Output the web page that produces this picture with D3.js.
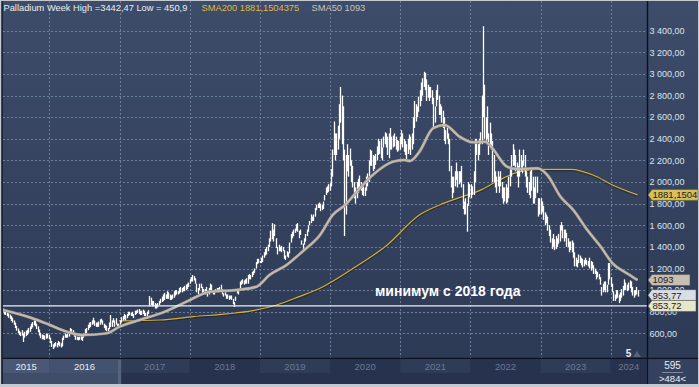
<!DOCTYPE html>
<html><head><meta charset="utf-8">
<script src="https://cdn.jsdelivr.net/npm/d3@7"></script>
<style>html,body{margin:0;padding:0;background:#c3c9d1;} svg{display:block;font-family:"Liberation Sans",Arial,sans-serif;}</style>
</head><body><svg id="c" width="699" height="387"></svg>
<script>
// ---------------- DATA ----------------
const weekStart = "2015-05-04"; // first weekly bar (Monday)
// weekly [low, high]
const w2015 = [
 [795,830],[775,815],[770,805],[760,795],
 [745,785],[735,775],[715,760],[700,745],[680,720],
 [650,700],[625,670],[600,645],[585,625],
 [575,610],[580,630],[520,600],[560,615],[575,625],
 [585,635],[600,650],[615,665],[640,690],
 [655,705],[675,724],[665,715],[640,690],
 [610,665],[580,635],[555,605],[545,590],[545,585],
 [540,580],[550,600],[555,595],[545,585]];
const w2016 = [
 [510,560],[475,530],[455,500],[470,510],
 [480,520],[470,510],[490,530],[480,520],[470,510],
 [480,560],[540,580],[560,600],[560,590],
 [560,600],[570,620],[600,650],[610,640],
 [590,630],[570,610],[540,590],[540,570],[535,565],
 [540,570],[540,580],[530,570],[560,600],
 [590,640],[600,650],[630,680],[650,700],
 [660,705],[680,720],[690,745],[670,720],[660,700],
 [660,700],[660,710],[680,730],[700,735],
 [680,720],[650,690],[630,680],[620,670],[620,650],
 [640,700],[660,770],[660,720],[700,740],
 [660,720],[680,740],[660,690],[660,690]];
const w2017 = [
 [680,720],[700,750],[720,760],[730,780],[720,770],
 [740,780],[760,800],[770,800],[760,790],
 [760,800],[740,780],[770,810],[780,810],
 [790,820],[780,825],[770,810],[770,810],
 [780,820],[760,810],[760,790],[760,800],[780,815],
 [850,945],[860,930],[850,900],[850,900],
 [830,880],[830,870],[840,880],[860,900],[880,920],
 [890,940],[900,960],[910,975],[920,960],
 [920,990],[920,980],[910,960],[910,950],
 [920,960],[930,990],[950,1000],[960,1000],[960,990],
 [970,1020],[980,1030],[980,1020],[990,1030],
 [990,1040],[1000,1050],[1010,1060],[1030,1070]];
const w2018 = [
 [1060,1100],[1080,1120],[1080,1140],[1090,1130],[1060,1110],
 [980,1060],[960,1020],[1000,1060],[1020,1060],
 [970,1030],[980,1010],[960,1010],[990,1030],
 [940,980],[960,1020],[1000,1060],[990,1050],[960,1000],
 [960,1000],[980,1010],[990,1020],[980,1020],
 [990,1030],[1000,1050],[960,1010],[940,970],
 [950,980],[920,960],[920,960],[910,950],[920,950],
 [910,950],[870,920],[845,890],[900,940],
 [970,1000],[960,1000],[1020,1080],[1050,1090],
 [1060,1100],[1050,1090],[1060,1100],[1060,1110],[1060,1140],
 [1100,1150],[1100,1140],[1120,1170],[1140,1180],
 [1160,1200],[1200,1260],[1240,1290],[1250,1290],[1250,1270]];
const w2019 = [
 [1250,1300],[1260,1320],[1300,1350],[1320,1380],
 [1330,1400],[1360,1420],[1400,1480],[1450,1550],
 [1470,1620],[1450,1560],[1500,1610],[1390,1480],
 [1330,1400],[1360,1420],[1360,1400],[1350,1410],[1360,1400],
 [1290,1370],[1280,1320],[1310,1360],[1300,1350],
 [1340,1440],[1440,1520],[1480,1540],[1500,1560],
 [1530,1570],[1550,1610],[1540,1620],[1480,1550],[1510,1560],
 [1420,1460],[1380,1430],[1420,1480],[1450,1520],
 [1500,1560],[1540,1600],[1600,1640],[1620,1700],[1640,1680],
 [1640,1700],[1680,1760],[1740,1790],[1760,1800],
 [1760,1810],[1730,1800],[1740,1790],[1750,1820],
 [1830,1880],[1880,1950],[1900,1960],[1910,1980],[1920,1990]];
const w2020 = [
 [1960,2120],[2050,2300],[2250,2560],[2200,2450],
 [2250,2450],[2300,2520],[2400,2720],[2550,2880],
 [2350,2800],[2200,2700],[1500,2300],[1700,2250],[2100,2350],
 [2050,2250],[2150,2310],[2000,2200],[1950,2150],
 [1850,2000],[1800,1950],[1850,2000],[1900,2030],
 [1930,2060],[1920,2000],[1880,1980],[1870,1960],[1870,1950],
 [1920,2050],[1960,2080],[2000,2200],[2150,2300],
 [2150,2290],[2100,2250],[2120,2240],[2160,2260],[2200,2330],
 [2250,2400],[2260,2380],[2220,2400],[2200,2320],
 [2320,2420],[2350,2460],[2320,2450],[2250,2420],
 [2220,2450],[2300,2500],[2300,2420],[2320,2430],[2330,2450],
 [2300,2420],[2280,2390],[2290,2380],[2300,2420]];
const w2021 = [
 [2350,2480],[2320,2450],[2280,2400],[2250,2380],
 [2200,2350],[2260,2400],[2300,2440],[2250,2420],
 [2300,2450],[2350,2600],[2500,2750],[2560,2720],[2600,2700],
 [2650,2790],[2700,2850],[2750,2920],[2800,2960],
 [2880,3020],[2850,3010],[2750,2950],[2780,2900],[2750,2880],
 [2780,2880],[2720,2850],[2500,2780],[2550,2700],
 [2700,2850],[2760,2900],[2620,2800],[2620,2720],
 [2550,2700],[2500,2660],[2380,2600],[2350,2480],[2400,2520],
 [2350,2450],[2100,2400],[1950,2150],[1850,2050],
 [1900,2050],[1960,2100],[2020,2180],[1950,2100],
 [1980,2100],[2000,2100],[1950,2150],[1750,1980],[1700,1820],
 [1700,1850],[1540,1800],[1780,2000],[1860,1980]];
const w2022 = [
 [1850,1980],[1880,1960],[1880,2100],[2000,2400],[2250,2400],
 [2200,2350],[2250,2400],[2350,2460],[2350,2800],
 [2600,3442],[2400,2900],[2350,2600],[2400,2700],
 [2250,2450],[2350,2550],[2300,2450],[2000,2380],
 [2000,2250],[1950,2100],[1900,2050],[1960,2100],[1900,2050],
 [1960,2100],[1850,2000],[1800,1950],[1820,1950],
 [1800,1980],[1810,1950],[1850,2050],[1960,2140],
 [2050,2250],[2150,2350],[2150,2300],[2100,2250],[2050,2180],
 [1950,2150],[2050,2300],[2100,2250],[2080,2200],
 [2150,2300],[2050,2250],[1950,2100],[1900,2050],[1880,2000],
 [1850,2100],[1920,2140],[1800,2050],[1800,1950],
 [1850,2050],[1900,2050],[1680,1850],[1700,1850]];
const w2023 = [
 [1700,1850],[1720,1820],[1650,1780],[1600,1720],[1620,1700],
 [1550,1680],[1500,1600],[1440,1560],[1380,1480],
 [1400,1520],[1370,1470],[1380,1500],[1400,1480],
 [1430,1520],[1450,1600],[1550,1630],[1480,1600],
 [1450,1560],[1480,1560],[1400,1530],[1400,1480],[1350,1450],
 [1370,1450],[1350,1460],[1300,1440],[1220,1350],
 [1220,1300],[1210,1280],[1250,1330],[1250,1320],[1230,1300],
 [1210,1290],[1220,1280],[1240,1300],[1230,1280],
 [1220,1270],[1200,1300],[1180,1270],[1200,1260],
 [1150,1230],[1150,1200],[1100,1180],[1120,1170],[1100,1150],
 [1050,1120],[950,1030],[980,1060],[1000,1080],
 [980,1080],[980,1050],[1050,1250],[1100,1250]];
const w2024 = [
 [1030,1120],[980,1060],[900,990],[900,960],[920,1000],
 [930,1000],[880,960],[900,980],[930,1010],
 [950,1040],[1000,1100],[1000,1070],[990,1050],
 [1000,1070],[1020,1090],[980,1080],[950,1030],[930,1000],
 [950,1000],[960,1030],[940,1000]];

// moving averages [date, value]
const sma50 = [
 ["2015-05-04",816],["2015-10-01",742],["2016-01-05",677],["2016-04-01",616],
 ["2016-06-20",585],["2016-10-25",600],["2017-01-01",662],["2017-04-15",724],
 ["2017-08-25",801],["2017-12-15",893],["2018-04-15",986],["2018-09-01",1002],
 ["2018-12-15",1032],["2019-02-20",1140],["2019-05-20",1233],["2019-08-10",1356],
 ["2019-11-10",1510],["2020-01-15",1695],["2020-03-20",1788],["2020-05-20",1911],
 ["2020-08-10",2065],["2020-11-25",2189],["2021-01-20",2204],["2021-02-20",2195],
 ["2021-04-10",2280],["2021-06-20",2497],["2021-08-20",2528],["2021-11-05",2420],
 ["2022-01-15",2367],["2022-03-20",2373],["2022-04-25",2312],["2022-07-10",2142],
 ["2022-08-30",2120],["2022-12-15",2127],["2023-02-05",2065],["2023-04-15",1864],
 ["2023-06-20",1742],["2023-09-01",1557],["2023-11-10",1402],["2024-01-10",1249],
 ["2024-03-25",1156],["2024-05-20",1093]];
const sma200 = [
 ["2016-12-28",715],["2017-07-30",724],["2018-01-20",755],["2018-07-15",780],
 ["2018-11-25",810],["2019-03-30",863],["2019-07-25",940],["2019-11-10",1017],
 ["2020-05-01",1202],["2020-10-25",1418],["2021-04-10",1695],["2021-07-25",1788],
 ["2021-11-20",1865],["2022-03-01",1930],["2022-06-01",2019],["2022-09-15",2096],
 ["2022-12-28",2118],["2023-06-10",2118],["2023-10-01",2065],["2024-01-10",1973],
 ["2024-05-20",1881]];

const levelValue = 853.72;
const yTicks = [600,800,1000,1200,1400,1600,1800,2000,2200,2400,2600,2800,3000,3200,3400];
const years = [2015,2016,2017,2018,2019,2020,2021,2022,2023,2024];
const tagValues = [1881.1504375, 1093, 953.77, 853.72];
const tagLabels = ["1881,1504", "1093", "953,77", "853,72"];
const headerMain = "Palladium Week High =3442,47 Low = 450,9";
const headerSma200 = "SMA200 1881,1504375";
const headerSma50 = "SMA50 1093";
const annotation = "минимум с 2018 года";
const cornerTop = "595", cornerBottom = ">484<", markerText = "5";

// ---------------- CHART ----------------
const svg = d3.select("#c");
const parse = d3.timeParse("%Y-%m-%d");
const weeks = [...w2015,...w2016,...w2017,...w2018,...w2019,...w2020,...w2021,...w2022,...w2023,...w2024];
const t0 = parse(weekStart);
const bars = weeks.map((d,i)=>({date:d3.timeDay.offset(t0,7*i), lo:d[0], hi:d[1]}));

const L=3, R=647, T=1, B=358;
const x = d3.scaleTime().domain([new Date(2016,0,1), new Date(2024,0,1)]).range([49.3, 610.7]);
const y = d3.scaleLinear().domain([400,3400]).range([355,30.7]);

const defs = svg.append("defs");
const g1 = defs.append("linearGradient").attr("id","bg").attr("x1",0).attr("x2",0).attr("y1",0).attr("y2",1);
g1.append("stop").attr("offset","0%").attr("stop-color","#3d4c69");
g1.append("stop").attr("offset","100%").attr("stop-color","#2c3955");
defs.append("clipPath").attr("id","pc").append("rect").attr("x",L).attr("y",T).attr("width",R-L).attr("height",B-T);
// axis labels hidden behind the price tags are only partly visible, as in the original
defs.append("clipPath").attr("id","ac").append("rect").attr("x",648).attr("y",T).attr("width",50).attr("height",B-T);

svg.append("rect").attr("width",699).attr("height",387).attr("fill","#c3c9d1");
svg.append("rect").attr("x",1).attr("y",1).attr("width",697).attr("height",383).attr("fill","url(#bg)");
svg.append("line").attr("x1",2.5).attr("x2",2.5).attr("y1",1).attr("y2",384).attr("stroke","#1d2436");

// grid
const grid = svg.append("g").attr("stroke","#6f7e9b").attr("stroke-dasharray","2,2").attr("shape-rendering","crispEdges");
yTicks.forEach(v=>{
  const yy = Math.round(y(v))+0.5;
  grid.append("line").attr("x1",L).attr("x2",R).attr("y1",yy).attr("y2",yy);
});
years.slice(1).forEach(yr=>{
  const xx = Math.round(x(new Date(yr,0,1)))+0.5;
  grid.append("line").attr("x1",xx).attr("x2",xx).attr("y1",T).attr("y2",B);
});

const plot = svg.append("g").attr("clip-path","url(#pc)");

// SMA200
const line = d3.line().x(d=>x(parse(d[0]))).y(d=>y(d[1])).curve(d3.curveMonotoneX);
plot.append("path").attr("d",line(sma200)).attr("fill","none").attr("stroke","#1c1f22").attr("stroke-opacity",0.55).attr("stroke-width",2.6).attr("transform","translate(0,0.6)");
plot.append("path").attr("d",line(sma200)).attr("fill","none").attr("stroke","#d4b13b").attr("stroke-width",1.2);

// price bars
plot.append("g").attr("stroke","#ffffff").attr("stroke-width",1.3)
  .selectAll("line").data(bars).join("line")
  .attr("x1",d=>Math.round(x(d.date))+0.5).attr("x2",d=>Math.round(x(d.date))+0.5)
  .attr("y1",d=>y(d.lo)).attr("y2",d=>y(d.hi));

// SMA50
plot.append("path").attr("d",line(sma50)).attr("fill","none").attr("stroke","#8b877f").attr("stroke-width",3.0);
plot.append("path").attr("d",line(sma50)).attr("fill","none").attr("stroke","#c3baae").attr("stroke-width",2.0);

// level line
svg.append("line").attr("x1",L).attr("x2",R).attr("y1",y(levelValue)).attr("y2",y(levelValue))
  .attr("stroke","#eef0f3").attr("stroke-width",1.3);

// annotation
svg.append("text").attr("x",375).attr("y",296).attr("fill","#ffffff").attr("font-weight","bold")
  .attr("font-size","14px").text(annotation);

// header
const hdr = svg.append("g").attr("font-size","9.3px");
hdr.append("text").attr("x",3.5).attr("y",10.5).attr("fill","#e9eef5").text(headerMain);
hdr.append("text").attr("x",201.5).attr("y",10.5).attr("fill","#e0b840").text(headerSma200);
hdr.append("text").attr("x",311.5).attr("y",10.5).attr("fill","#c9c2b8").text(headerSma50);

// right axis
svg.append("line").attr("x1",647.5).attr("x2",647.5).attr("y1",1).attr("y2",384).attr("stroke","#0c1020").attr("stroke-width",1.4);
const loc = d3.formatLocale({decimal:",", thousands:"\u00a0", grouping:[3], currency:["",""]});
const fmt = loc.format(",.2f");
svg.append("g").attr("font-size","9px").attr("fill","#dde4ee")
  .selectAll("text").data(yTicks).join("text")
  .attr("x",649.5).attr("y",v=>y(v)+3.3).text(v=>fmt(v));

// tags
const tagFill = ["#d6c057","#c8bfb2","#d8dde6","#e6e7cd"];
const tagEnd = [698,690,696,696];
tagValues.forEach((v,i)=>{
  const yc = y(v), h=5.5;
  svg.append("path").attr("d",`M648,${yc} L652,${yc-h} L${tagEnd[i]},${yc-h} L${tagEnd[i]},${yc+h} L652,${yc+h} Z`)
    .attr("fill",tagFill[i]).attr("stroke","#4a4a40").attr("stroke-width",0.5);
  svg.append("text").attr("x",652.5).attr("y",yc+3.4).attr("font-size","9.5px").attr("fill","#1a1a1a").text(tagLabels[i]);
});

// marker "5"
svg.append("text").attr("x",628.5).attr("y",356.5).attr("text-anchor","middle").attr("font-size","10px").attr("font-weight","bold").attr("fill","#e6ebf2").text(markerText);
svg.append("path").attr("d","M633,357 L641,357 L637,351 Z").attr("fill","#56627c");

// bottom axis strip
svg.append("line").attr("x1",L).attr("x2",698).attr("y1",358.5).attr("y2",358.5).attr("stroke","#0c1020").attr("stroke-width",1.4);
const strip = svg.append("g");
strip.append("rect").attr("x",L).attr("y",359).attr("width",R-L).attr("height",25).attr("fill","#27334e");
const yearSpan = yr=>{
  const a = Math.max(L, x(new Date(yr,0,1))), b = Math.min(R, x(new Date(yr+1,0,1)));
  return [a,b];
};
years.forEach(yr=>{
  const [a,b] = yearSpan(yr);
  strip.append("rect").attr("x",a).attr("y",359).attr("width",b-a).attr("height",14)
    .attr("fill", yr%2 ? "#2e3c58" : "#27334e");
});
// selected range (navigator thumb)
const selEnd = x(new Date(2017,0,1))+1.5;
strip.append("rect").attr("x",L).attr("y",359).attr("width",selEnd-L).attr("height",25).attr("fill","#3f4d69");
strip.append("rect").attr("x",L).attr("y",359).attr("width",x(new Date(2016,0,1))-L).attr("height",14).attr("fill","#4a5875");
strip.append("rect").attr("x",x(new Date(2016,0,1))).attr("y",359).attr("width",selEnd-x(new Date(2016,0,1))).attr("height",14).attr("fill","#43526e");
strip.append("rect").attr("x",selEnd-3).attr("y",360).attr("width",3).attr("height",24).attr("fill","#58647e");
years.forEach(yr=>{
  const [a,b] = yearSpan(yr);
  strip.append("text").attr("x",(a+b)/2).attr("y",369.5).attr("text-anchor","middle")
    .attr("font-size","9.5px").attr("fill", yr<=2016 ? "#e9eef5" : "#6b7891").text(yr);
});

// corner box
svg.append("rect").attr("x",648.2).attr("y",359.2).attr("width",49.8).attr("height",24.8).attr("fill","#34425f");
svg.append("text").attr("x",672.5).attr("y",369).attr("text-anchor","middle").attr("font-size","10px").attr("fill","#e9eef5").text(cornerTop);
svg.append("line").attr("x1",662).attr("x2",683).attr("y1",372.5).attr("y2",372.5).attr("stroke","#8f9bb0").attr("stroke-width",0.8);
svg.append("text").attr("x",672.5).attr("y",382).attr("text-anchor","middle").attr("font-size","9.5px").attr("fill","#e9eef5").text(cornerBottom);
</script></body></html>
